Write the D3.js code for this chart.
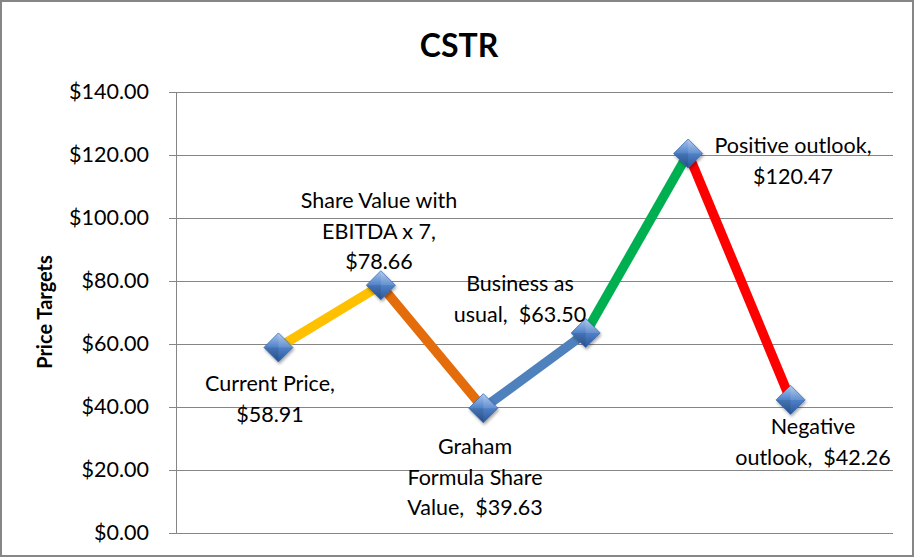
<!DOCTYPE html>
<html><head><meta charset="utf-8">
<script src="https://cdn.jsdelivr.net/npm/d3@7"></script>
<style>body{margin:0;background:#fff}svg{display:block}text{font-family:Lato,"Open Sans",sans-serif;fill:#000}</style>
</head><body>
<script>
const categories = ["Current Price,", "Share Value with EBITDA x 7,", "Graham Formula Share Value,", "Business as usual,", "Positive outlook,", "Negative outlook,"];
const values = [58.91, 78.66, 39.63, 63.50, 120.47, 42.26];
const segmentColors = ["#FFC000", "#E46C0A", "#4F81BD", "#00B050", "#FF0000"];
const labelLines = [
  ["Current Price,", "$58.91"],
  ["Share Value with", "EBITDA x 7,", "$78.66"],
  ["Graham", "Formula Share", "Value,  $39.63"],
  ["Business as", "usual,  $63.50"],
  ["Positive outlook,", "$120.47"],
  ["Negative", "outlook,  $42.26"]
];
const yTicks = [0, 20, 40, 60, 80, 100, 120, 140];
const title = "CSTR";
const yTitle = "Price Targets";

const W = 917, H = 559;
const svg = d3.select("body").append("svg").attr("width", W).attr("height", H);
svg.append("rect").attr("x", 1).attr("y", 1).attr("width", W - 5).attr("height", H - 4)
  .attr("fill", "#fff").attr("stroke", "#868686").attr("stroke-width", 2);

const pLeft = 176, pRight = 893, pTop = 92, pBottom = 533;
const x = d3.scaleLinear().domain([0, categories.length + 1]).range([pLeft, pRight]);
const y = d3.scaleLinear().domain([0, 140]).range([pBottom, pTop]);

// gridlines
svg.append("g").selectAll("line").data(yTicks.filter(d => d > 0)).join("line")
  .attr("x1", pLeft).attr("x2", pRight).attr("y1", d => y(d)).attr("y2", d => y(d))
  .attr("stroke", "#868686").attr("stroke-width", 1).attr("shape-rendering", "crispEdges");

// y axis
const yAxis = d3.axisLeft(y).tickValues(yTicks).tickSize(7).tickPadding(20)
  .tickFormat(d => "$" + d3.format(".2f")(d));
const ga = svg.append("g").attr("transform", `translate(${pLeft},0)`).call(yAxis);
ga.select(".domain").attr("stroke", "#868686").attr("shape-rendering", "crispEdges");
ga.selectAll(".tick line").attr("stroke", "#868686").attr("shape-rendering", "crispEdges");
ga.selectAll(".tick text").style("font-family", "Lato, sans-serif").style("font-size", "21.5px").attr("fill", "#000");

// x axis baseline
svg.append("line").attr("x1", pLeft).attr("x2", pRight).attr("y1", y(0)).attr("y2", y(0))
  .attr("stroke", "#868686").attr("shape-rendering", "crispEdges");

// title
svg.append("text").attr("x", 459).attr("y", 57).attr("text-anchor", "middle")
  .style("font-size", "32px").style("font-weight", "bold").text(title);
svg.append("text").attr("transform", `translate(52,312) rotate(-90)`)
  .attr("text-anchor", "middle").style("font-size", "20px").style("font-weight", "bold").text(yTitle);

const pts = values.map((v, i) => [x(i + 1), y(v)]);

// segments
const segs = d3.pairs(pts);
svg.append("g").selectAll("line").data(segs).join("line")
  .attr("x1", d => d[0][0]).attr("y1", d => d[0][1]).attr("x2", d => d[1][0]).attr("y2", d => d[1][1])
  .attr("stroke", (d, i) => segmentColors[i]).attr("stroke-width", 9.5);

// markers
const defs = svg.append("defs");
const gr = defs.append("linearGradient").attr("id", "dg").attr("x1", 0).attr("y1", 0).attr("x2", 0).attr("y2", 1);
gr.append("stop").attr("offset", "0%").attr("stop-color", "#A9C6EE");
gr.append("stop").attr("offset", "50%").attr("stop-color", "#4F81C8");
gr.append("stop").attr("offset", "100%").attr("stop-color", "#2A5798");
const f = defs.append("filter").attr("id", "sh").attr("x", "-50%").attr("y", "-50%").attr("width", "200%").attr("height", "200%");
f.append("feDropShadow").attr("dx", 1).attr("dy", 2).attr("stdDeviation", 1.5).attr("flood-color", "#000").attr("flood-opacity", 0.35);
const s = 14.5;
const mk = svg.append("g").selectAll("g").data(pts).join("g").attr("transform", d => `translate(${d[0]},${d[1]})`);
mk.append("path").attr("d", `M0,${-s}L${s},0L0,${s}L${-s},0Z`).attr("fill", "url(#dg)")
  .attr("stroke", "#3A6BB0").attr("stroke-width", 0.8).attr("filter", "url(#sh)");
mk.append("path").attr("d", `M0,${-s}L${s},0L0,0Z`).attr("fill", "#fff").attr("opacity", 0.12);
mk.append("path").attr("d", `M0,${s}L${-s},0L0,0Z`).attr("fill", "#000").attr("opacity", 0.1);

// data labels: [center x, first baseline]
const labelPos = [[270, 391], [379, 208], [475, 454], [520, 291], [793, 153], [813, 434]];
labelLines.forEach((lines, i) => {
  const t = svg.append("text").attr("text-anchor", "middle").style("font-size", "21.5px").style("white-space", "pre");
  lines.forEach((ln, j) => {
    t.append("tspan").attr("x", labelPos[i][0]).attr("y", labelPos[i][1] + j * 30.5).text(ln);
  });
});
</script>
</body></html>
